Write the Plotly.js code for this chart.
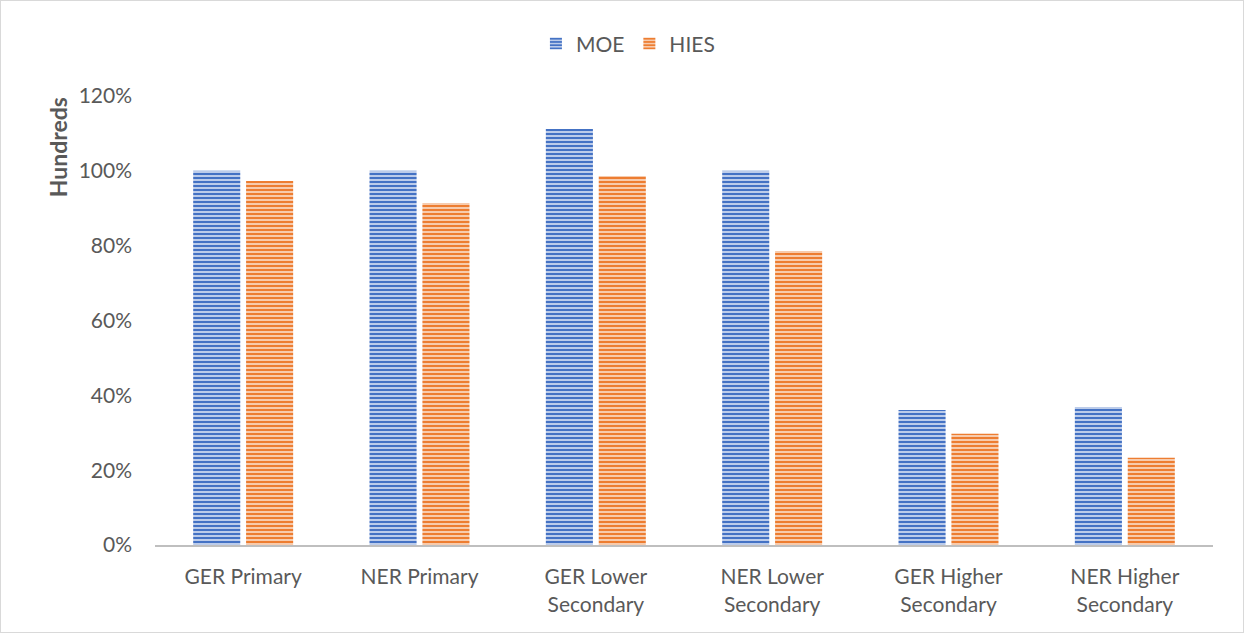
<!DOCTYPE html>
<html><head><meta charset="utf-8">
<script src="https://cdn.plot.ly/plotly-3.0.1.min.js"></script>
<style>html,body{margin:0;padding:0;background:#fff}#c{width:1244px;height:633px;box-sizing:border-box;border:1px solid #d9d9d9}</style>
</head><body><div id="c"></div>
<script>
const categories = ["GER Primary", "NER Primary", "GER Lower<br>Secondary", "NER Lower<br>Secondary", "GER Higher<br>Secondary", "NER Higher<br>Secondary"];
const moe = [1.00, 1.00, 1.112, 1.00, 0.361, 0.369];
const hies = [0.973, 0.914, 0.986, 0.786, 0.297, 0.233];
const yTicks = [0, 0.2, 0.4, 0.6, 0.8, 1.0, 1.2];
const yTitle = "Hundreds";

const font = {family: "Lato, 'Open Sans', sans-serif", size: 21, color: "#595959"};
const traces = [
  {type: "bar", name: "MOE", x: categories, y: moe,
   marker: {color: "#4472c4", line: {width: 0}, pattern: {shape: "-", fgcolor: "#4472c4", bgcolor: "#d3ddf1", size: 4, solidity: 0.58}}},
  {type: "bar", name: "HIES", x: categories, y: hies,
   marker: {color: "#ed7d31", line: {width: 0}, pattern: {shape: "-", fgcolor: "#ed7d31", bgcolor: "#fadac4", size: 4, solidity: 0.58}}}
];
const layout = {
  width: 1242, height: 631,
  margin: {l: 154, r: 30, t: 95, b: 87},
  paper_bgcolor: "#fff", plot_bgcolor: "#fff",
  font: font,
  barmode: "group", bargap: 0.40, bargroupgap: 0.11,
  showlegend: true,
  legend: {orientation: "h", x: 0.447, xanchor: "center", y: 1.116, yanchor: "middle", font: font, itemwidth: 30, traceorder: "normal"},
  xaxis: {showgrid: false, showline: true, linecolor: "#bfbfbf", linewidth: 2, ticks: "", tickfont: font, ticklabelstandoff: 12, automargin: false},
  yaxis: {range: [0, 1.2], tickvals: yTicks, tickformat: ".0%", showgrid: false, zeroline: false, showline: false, ticks: "", ticklabelstandoff: 22, tickfont: font, automargin: false},
  annotations: [{text: "<b>" + yTitle + "</b>", textangle: -90, xref: "paper", yref: "paper", x: -0.092, y: 0.885,
                 xanchor: "center", yanchor: "middle", showarrow: false, font: {family: font.family, size: 23, color: "#595959"}}]
};
Plotly.newPlot("c", traces, layout, {displayModeBar: false, staticPlot: true});
</script></body></html>
